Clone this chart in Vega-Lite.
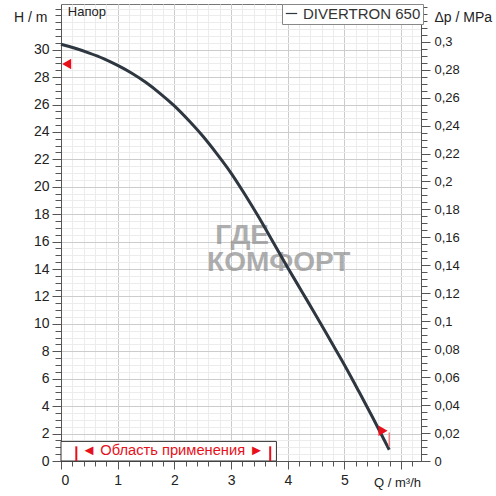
{
  "$schema": "https://vega.github.io/schema/vega-lite/v6.json",
  "width": 360,
  "height": 457,
  "autosize": "none",
  "padding": {"left": 61, "top": 4, "right": 75, "bottom": 35},
  "background": "white",
  "config": {
    "view": {"stroke": "#777", "strokeWidth": 1},
    "font": "Liberation Sans",
    "axis": {
      "labelFont": "Liberation Sans",
      "labelFontSize": 14,
      "labelColor": "#222",
      "titleFont": "Liberation Sans",
      "titleFontSize": 13,
      "titleFontWeight": "normal",
      "titleColor": "#222",
      "domainColor": "#555",
      "tickColor": "#555"
    }
  },
  "datasets": {
    "curve": [
      {"Q": 0, "H": 30.4, "series": "DIVERTRON 650"},
      {"Q": 0.25, "H": 30.1, "series": "DIVERTRON 650"},
      {"Q": 0.5, "H": 29.75, "series": "DIVERTRON 650"},
      {"Q": 0.75, "H": 29.35, "series": "DIVERTRON 650"},
      {"Q": 1.0, "H": 28.85, "series": "DIVERTRON 650"},
      {"Q": 1.25, "H": 28.28, "series": "DIVERTRON 650"},
      {"Q": 1.5, "H": 27.6, "series": "DIVERTRON 650"},
      {"Q": 1.75, "H": 26.8, "series": "DIVERTRON 650"},
      {"Q": 2.0, "H": 25.9, "series": "DIVERTRON 650"},
      {"Q": 2.25, "H": 24.85, "series": "DIVERTRON 650"},
      {"Q": 2.5, "H": 23.7, "series": "DIVERTRON 650"},
      {"Q": 2.75, "H": 22.4, "series": "DIVERTRON 650"},
      {"Q": 3.0, "H": 21.0, "series": "DIVERTRON 650"},
      {"Q": 3.25, "H": 19.4, "series": "DIVERTRON 650"},
      {"Q": 3.5, "H": 17.7, "series": "DIVERTRON 650"},
      {"Q": 3.75, "H": 15.9, "series": "DIVERTRON 650"},
      {"Q": 4.0, "H": 14.1, "series": "DIVERTRON 650"},
      {"Q": 4.25, "H": 12.35, "series": "DIVERTRON 650"},
      {"Q": 4.5, "H": 10.6, "series": "DIVERTRON 650"},
      {"Q": 4.75, "H": 8.8, "series": "DIVERTRON 650"},
      {"Q": 5.0, "H": 7.0, "series": "DIVERTRON 650"},
      {"Q": 5.25, "H": 5.1, "series": "DIVERTRON 650"},
      {"Q": 5.5, "H": 3.15, "series": "DIVERTRON 650"},
      {"Q": 5.79, "H": 0.82, "series": "DIVERTRON 650"}
    ],
    "box": [{"q1": 0, "q2": 3.8, "h1": 0, "h2": 1.43, "label": "◄ Область применения ►", "qm": 1.97, "hm": 0.72}],
    "bars": [{"Q": 0.27, "h1": 0, "h2": 1.07}, {"Q": 3.69, "h1": 0, "h2": 1.07}],
    "markLeft": [{"Q": 0.1, "H": 28.95}],
    "markRight": [{"Q": 5.68, "H": 2.2}],
    "markTick": [{"Q": 5.79, "h1": 1.05, "h2": 2.08}],
    "labels": [{"text": "Напор", "Q": 0.12, "H": 32.73}],
    "watermark": [{"text": "ГДЕ", "Q": 2.72, "H": 16.38}, {"text": "КОМФОРТ", "Q": 2.576, "H": 14.44}]
  },
  "layer": [
    {
      "layer": [
        {
          "data": {"name": "curve"},
          "mark": {"type": "line", "opacity": 0},
          "encoding": {
            "x": {"field": "Q", "type": "quantitative", "scale": {"domain": [0, 6.35], "nice": false, "zero": false},
              "axis": {"orient": "bottom", "values": [0,0.2,0.4,0.6,0.8,1,1.2,1.4,1.6,1.8,2,2.2,2.4,2.6,2.8,3,3.2,3.4,3.6,3.8,4,4.2,4.4,4.6,4.8,5,5.2,5.4,5.6,5.8,6,6.2],
                "grid": true, "gridColor": "#ececec", "tickSize": 5, "labels": false, "domain": false, "title": null}},
            "y": {"field": "H", "type": "quantitative", "scale": {"domain": [0, 33.33], "nice": false, "zero": false},
              "axis": {"orient": "left", "values": [0,0.5,1,1.5,2,2.5,3,3.5,4,4.5,5,5.5,6,6.5,7,7.5,8,8.5,9,9.5,10,10.5,11,11.5,12,12.5,13,13.5,14,14.5,15,15.5,16,16.5,17,17.5,18,18.5,19,19.5,20,20.5,21,21.5,22,22.5,23,23.5,24,24.5,25,25.5,26,26.5,27,27.5,28,28.5,29,29.5,30,30.5,31,31.5,32,32.5,33],
                "grid": true, "gridColor": "#ececec", "tickSize": 6, "labels": false, "domain": false, "title": null}}
          }
        },
        {
          "data": {"name": "box"},
          "mark": {"type": "rect", "fill": "white", "stroke": "#333", "strokeWidth": 1},
          "encoding": {
            "x": {"field": "q1", "type": "quantitative", "scale": {"domain": [0, 6.35], "nice": false, "zero": false},
              "axis": {"orient": "bottom", "values": [0,1,2,3,4,5,6], "grid": true, "gridColor": "#cccccc", "tickSize": 8, "labelPadding": 4,
                "labelExpr": "datum.value == 6 ? '' : datum.label",
                "title": "Q / m³/h", "titleAngle": 0, "titleAlign": "center", "titleBaseline": "middle", "titleX": 336, "titleY": 21}},
            "x2": {"field": "q2"},
            "y": {"field": "h1", "type": "quantitative", "scale": {"domain": [0, 33.33], "nice": false, "zero": false},
              "axis": {"orient": "left", "values": [0,2,4,6,8,10,12,14,16,18,20,22,24,26,28,30], "grid": true, "gridColor": "#cccccc", "tickSize": 9, "labelPadding": 3,
                "title": "H / m", "titleAngle": 0, "titleAlign": "right", "titleBaseline": "middle", "titleX": -14, "titleY": 13, "titleFontSize": 14}},
            "y2": {"field": "h2"}
          }
        },
        {
          "data": {"name": "bars"},
          "mark": {"type": "rule", "color": "#e8101a", "strokeWidth": 2},
          "encoding": {
            "x": {"field": "Q", "type": "quantitative", "axis": null},
            "y": {"field": "h1", "type": "quantitative", "axis": null},
            "y2": {"field": "h2"}
          }
        },
        {
          "data": {"name": "box"},
          "mark": {"type": "text", "color": "#e8101a", "fontSize": 14.7, "align": "center", "baseline": "middle", "font": "Liberation Sans"},
          "encoding": {
            "x": {"field": "qm", "type": "quantitative", "axis": null},
            "y": {"field": "hm", "type": "quantitative", "axis": null},
            "text": {"field": "label"}
          }
        },
        {
          "data": {"name": "watermark"},
          "mark": {"type": "text", "color": "#8c8c8c", "opacity": 0.7, "fontSize": 28, "fontWeight": "bold", "align": "left", "baseline": "middle", "font": "Liberation Sans"},
          "encoding": {
            "x": {"field": "Q", "type": "quantitative", "axis": null},
            "y": {"field": "H", "type": "quantitative", "axis": null},
            "text": {"field": "text"}
          }
        },
        {
          "data": {"name": "labels"},
          "mark": {"type": "text", "color": "#222", "fontSize": 13, "align": "left", "baseline": "middle", "font": "Liberation Sans"},
          "encoding": {
            "x": {"field": "Q", "type": "quantitative", "axis": null},
            "y": {"field": "H", "type": "quantitative", "axis": null},
            "text": {"field": "text"}
          }
        },
        {
          "data": {"name": "curve"},
          "mark": {"type": "line", "strokeWidth": 3, "interpolate": "monotone"},
          "encoding": {
            "x": {"field": "Q", "type": "quantitative", "axis": null},
            "y": {"field": "H", "type": "quantitative", "axis": null},
            "color": {"field": "series", "type": "nominal", "scale": {"range": ["#2e3640"]},
              "legend": {"title": null, "orient": "none", "legendX": 221, "legendY": 0, "symbolType": "stroke", "symbolSize": 130, "symbolStrokeWidth": 1.2,
                "labelFontSize": 15, "labelFont": "Liberation Sans", "labelColor": "#333", "padding": 2, "strokeColor": "#888", "fillColor": "white", "labelOffset": 4}}
          }
        },
        {
          "data": {"name": "markTick"},
          "mark": {"type": "rule", "color": "#f08080", "strokeWidth": 1.5},
          "encoding": {
            "x": {"field": "Q", "type": "quantitative", "axis": null},
            "y": {"field": "h1", "type": "quantitative", "axis": null},
            "y2": {"field": "h2"}
          }
        },
        {
          "data": {"name": "markLeft"},
          "mark": {"type": "point", "shape": "triangle-left", "filled": true, "color": "#e8101a", "size": 110, "opacity": 1},
          "encoding": {
            "x": {"field": "Q", "type": "quantitative", "axis": null},
            "y": {"field": "H", "type": "quantitative", "axis": null}
          }
        },
        {
          "data": {"name": "markRight"},
          "mark": {"type": "point", "shape": "triangle-right", "filled": true, "color": "#e8101a", "size": 110, "opacity": 1},
          "encoding": {
            "x": {"field": "Q", "type": "quantitative", "axis": null},
            "y": {"field": "H", "type": "quantitative", "axis": null}
          }
        }
      ],
      "resolve": {"axis": {"x": "independent", "y": "independent"}}
    },
    {
      "data": {"values": [{"p": 0}]},
      "mark": {"type": "rule", "opacity": 0},
      "encoding": {
        "y": {"field": "p", "type": "quantitative", "scale": {"domain": [0, 0.327], "nice": false, "zero": false},
          "axis": {"orient": "right", "values": [0,0.02,0.04,0.06,0.08,0.1,0.12,0.14,0.16,0.18,0.2,0.22,0.24,0.26,0.28,0.3],
            "labelExpr": "replace(format(datum.value, '.2~f'), '.', ',')", "grid": false, "tickSize": 9, "labelPadding": 4, "labelFontSize": 13,
            "title": "Δp / MPa", "titleAngle": 0, "titleAlign": "left", "titleBaseline": "middle", "titleX": 13, "titleY": 13, "titleFontSize": 14}}
      }
    },
    {
      "data": {"values": [{"p": 0}]},
      "mark": {"type": "rule", "opacity": 0},
      "encoding": {
        "y": {"field": "p", "type": "quantitative", "scale": {"domain": [0, 0.327], "nice": false, "zero": false},
          "axis": {"orient": "right", "values": [0,0.005,0.01,0.015,0.02,0.025,0.03,0.035,0.04,0.045,0.05,0.055,0.06,0.065,0.07,0.075,0.08,0.085,0.09,0.095,0.1,0.105,0.11,0.115,0.12,0.125,0.13,0.135,0.14,0.145,0.15,0.155,0.16,0.165,0.17,0.175,0.18,0.185,0.19,0.195,0.2,0.205,0.21,0.215,0.22,0.225,0.23,0.235,0.24,0.245,0.25,0.255,0.26,0.265,0.27,0.275,0.28,0.285,0.29,0.295,0.3,0.305,0.31,0.315,0.32,0.325],
            "grid": false, "tickSize": 6, "labels": false, "domain": false, "title": null}}
      }
    }
  ],
  "resolve": {"scale": {"y": "independent"}, "axis": {"y": "independent"}}
}
